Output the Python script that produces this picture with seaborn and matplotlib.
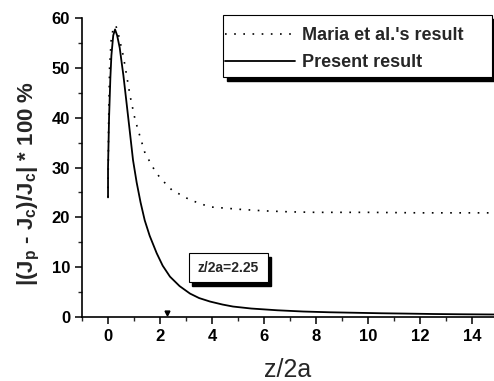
import matplotlib
matplotlib.use("Agg")
import matplotlib.pyplot as plt
from matplotlib.patches import Rectangle
import seaborn as sns

# ── Data ─────────────────────────────────────────────────────────────────────
present_x = [0.0, 0.0, 0.04, 0.09, 0.13, 0.2, 0.27, 0.35, 0.45, 0.51, 0.59, 0.7,
             0.82, 0.96, 1.1, 1.25, 1.41, 1.6, 1.87, 2.1, 2.38, 2.75, 3.15, 3.5,
             3.92, 4.4, 4.8, 5.5, 6.5, 7.5, 8.5, 9.5, 10.5, 11.5, 12.5, 13.5, 14.9]
present_y = [24.0, 30.0, 40.0, 48.0, 52.5, 56.5, 57.7, 56.5, 54.0, 51.6, 48.5, 43.5,
             38.0, 31.5, 27.0, 23.0, 19.4, 16.3, 12.8, 10.3, 8.1, 6.2, 4.7, 3.8,
             3.1, 2.5, 2.1, 1.7, 1.35, 1.1, 0.95, 0.85, 0.75, 0.68, 0.6, 0.55, 0.5]

maria_x = [0.0, 0.02, 0.06, 0.12, 0.2, 0.3, 0.4, 0.59, 0.72, 0.85, 1.04, 1.23,
           1.42, 1.74, 2.0, 2.45, 3.15, 3.9, 5.08, 6.0, 7.0, 8.0, 10.0, 12.0, 14.9]
maria_y = [24.0, 38.0, 50.0, 55.5, 58.0, 58.5, 56.7, 52.3, 48.3, 44.3, 39.6, 36.2,
           32.9, 29.9, 27.9, 25.5, 23.5, 22.1, 21.6, 21.3, 21.1, 21.0, 21.0, 20.9, 20.9]

series_labels = ["Maria et al.'s result", "Present result"]
marker_z = 2.25
annot_text = "z/2a=2.25"

# ── Style ────────────────────────────────────────────────────────────────────
sns.set_style("ticks")
plt.rcParams["font.family"] = ["Liberation Sans", "DejaVu Sans"]
plt.rcParams["mathtext.fontset"] = "custom"
plt.rcParams["mathtext.bf"] = "Liberation Sans:bold"
plt.rcParams["mathtext.rm"] = "Liberation Sans:bold"
plt.rcParams["mathtext.default"] = "bf"

W, H = 494, 381
fig = plt.figure(figsize=(W / 100, H / 100), dpi=100)
ax = fig.add_axes([82 / W, 1 - 317 / H, (W - 82) / W, (317 - 18) / H])

sns.lineplot(x=maria_x, y=maria_y, ax=ax, color="black", lw=1.2,
             linestyle=(0, (1, 4.5)), estimator=None, sort=False,
             label=series_labels[0])
sns.lineplot(x=present_x, y=present_y, ax=ax, color="black", lw=1.3,
             estimator=None, sort=False, label=series_labels[1])

# marker on the axis at z/2a = 2.25
ax.plot([marker_z], [0.9], marker="v", color="black", markersize=3.5,
        clip_on=False)

# annotation box with a drop shadow
ax.add_patch(Rectangle((3.22, 6.2), 3.04, 5.8, fc="black", ec="black", zorder=4))
ax.add_patch(Rectangle((3.1, 7.0), 3.04, 5.8, fc="white", ec="black", lw=0.8,
                       zorder=5))
ax.text(4.62, 9.9, annot_text, fontsize=10, fontweight="bold",
        ha="center", va="center", zorder=6)

ax.set_xlim(-1, 14.83)
ax.set_ylim(0, 60)
ax.set_xticks(range(0, 15, 2))
ax.set_xticks(range(-1, 15, 1), minor=True)
ax.set_yticks(range(0, 61, 10))
ax.set_yticks(range(0, 61, 5), minor=True)
ax.tick_params(axis="both", which="major", direction="out", length=5, width=1.1,
               labelsize=12, colors="black")
ax.tick_params(axis="both", which="minor", direction="out", length=3, width=1.0)
for lab in ax.get_xticklabels() + ax.get_yticklabels():
    lab.set_fontweight("bold")
sns.despine(ax=ax)
for s in ["left", "bottom"]:
    ax.spines[s].set_linewidth(1.2)
    ax.spines[s].set_color("black")

ax.set_xlabel("z/2a", fontsize=18, labelpad=10)
ax.set_ylabel(r"|(J$_\mathbf{p}$ - J$_\mathbf{c}$)/J$_\mathbf{c}$| * 100 %",
              fontsize=16, fontweight="bold")
ax.yaxis.set_label_coords(-0.097, 0.448)

# legend frame drawn by hand (Origin-style box with a heavy drop shadow)
ax.add_patch(Rectangle((227 / W, 1 - 81 / H), 270 / W, 62 / H,
                       transform=fig.transFigure, fc="black", ec="black",
                       clip_on=False, zorder=7))
ax.add_patch(Rectangle((223 / W, 1 - 77 / H), 269 / W, 62 / H,
                       transform=fig.transFigure, fc="white", ec="black",
                       lw=0.8, clip_on=False, zorder=8))
leg = ax.legend(loc="upper left", bbox_to_anchor=(225 / W, 1 - 27 / H),
                bbox_transform=fig.transFigure, borderaxespad=0, borderpad=0,
                frameon=False, handlelength=3.85, handletextpad=0.4,
                labelspacing=0.55, prop={"weight": "bold", "size": 13})
leg.set_zorder(9)

fig.savefig("out.png", dpi=100)
